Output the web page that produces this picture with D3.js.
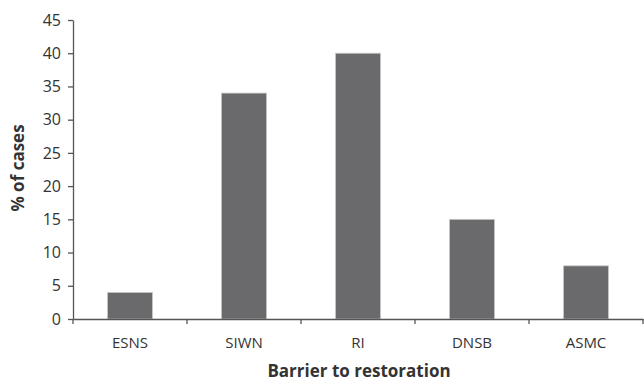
<!DOCTYPE html>
<html><head><meta charset="utf-8">
<script src="https://cdn.jsdelivr.net/npm/d3@7"></script>
<style>body{margin:0;background:#fff}svg{display:block}</style>
</head><body>
<svg id="c" width="644" height="382"></svg>
<script>
const categories = ["ESNS","SIWN","RI","DNSB","ASMC"];
const values = [4, 34, 40, 15, 8];
const yTicks = [0,5,10,15,20,25,30,35,40,45];

(function(){
const svg = d3.select("#c");
const mLeft = 73, mRight = 643, mTop = 20, mBottom = 319;
const x = d3.scaleBand().domain(categories).range([mLeft, mRight]).paddingInner(0.605).paddingOuter(0.3025);
const y = d3.scaleLinear().domain([0,45]).range([mBottom, mTop]);
const axisColor = "#555";
const font = "'Open Sans', sans-serif";

svg.selectAll("rect.bar").data(values).join("rect")
  .attr("class","bar")
  .attr("x",(d,i)=>x(categories[i]))
  .attr("width",x.bandwidth())
  .attr("y",d=>y(d))
  .attr("height",d=>mBottom-y(d))
  .attr("fill","#6a6a6c")
  .attr("stroke","#c8c8c8").attr("stroke-width",0.8);

const ya = svg.append("g").attr("transform",`translate(${mLeft},0)`)
  .call(d3.axisLeft(y).tickValues(yTicks).tickSize(5).tickPadding(7).tickSizeOuter(0));
ya.select(".domain").attr("stroke",axisColor).attr("stroke-width",1.3);
ya.selectAll(".tick line").attr("stroke",axisColor).attr("stroke-width",1.3);
ya.selectAll(".tick text").attr("font-family",font).attr("font-size",16).attr("fill","#333");

const xa = svg.append("g").attr("transform",`translate(0,${mBottom})`)
  .call(d3.axisBottom(x).tickSize(0).tickPadding(18).tickSizeOuter(0));
xa.select(".domain").attr("stroke",axisColor).attr("stroke-width",1.3);
xa.selectAll(".tick text").attr("font-family",font).attr("font-size",15).attr("fill","#333");
const bounds = d3.range(categories.length+1).map(i=>mLeft + i*x.step());
svg.append("g").selectAll("line").data(bounds).join("line")
  .attr("x1",d=>d).attr("x2",d=>d).attr("y1",mBottom).attr("y2",mBottom+5)
  .attr("stroke",axisColor).attr("stroke-width",1.3);

svg.append("text").attr("x",359).attr("y",377).attr("text-anchor","middle")
  .attr("font-family",font).attr("font-weight","bold").attr("font-size",17).attr("fill","#333")
  .text("Barrier to restoration");
svg.append("text").attr("transform","translate(24,168) rotate(-90)").attr("text-anchor","middle")
  .attr("font-family",font).attr("font-weight","bold").attr("font-size",17).attr("fill","#333")
  .text("% of cases");
})();
</script>
</body></html>
